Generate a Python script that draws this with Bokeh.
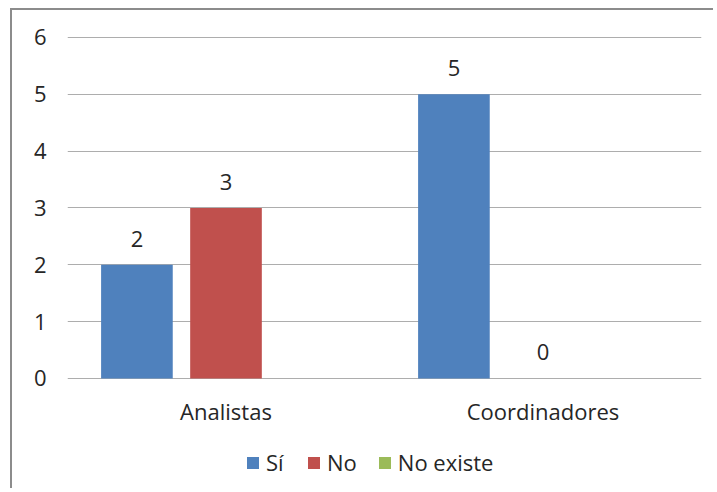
from bokeh.plotting import figure
from bokeh.models import (ColumnDataSource, FactorRange, Range1d, FixedTicker, LabelSet,
                          Legend, LegendItem)
from bokeh.transform import dodge
from bokeh.embed import file_html
from bokeh.resources import INLINE
from bokeh.core.properties import value
import math

categories = ["Analistas", "Coordinadores"]
series_names = ["Sí", "No", "No existe"]
si_values = [2, 5]
no_values = [3, 0]
no_existe_values = [float("nan"), float("nan")]
y_ticks = [0, 1, 2, 3, 4, 5, 6]

colors = ["#4F81BD", "#C0504D", "#9BBB59"]
offsets = [-0.281, 0.0, 0.281]
bar_w = 0.226
FONT = "Open Sans"
FS = "22px"
TXT = "#262626"
GRID = "#ADADAD"

# frame extends below the value axis so the legend can sit inside it
p = figure(x_range=FactorRange(*categories, range_padding=0),
           y_range=Range1d(-1.971, 6.299),
           width=703, height=480, output_backend="svg", toolbar_location=None,
           min_border_left=55, min_border_right=14, min_border_top=10, min_border_bottom=0)
p.styles = {"margin-left": "10px", "margin-top": "8px",
            "border-left": "2px solid #8C8C8C", "border-top": "2px solid #8C8C8C"}
p.outline_line_color = None
p.xaxis.visible = False
p.xgrid.grid_line_color = None
p.ygrid.ticker = FixedTicker(ticks=y_ticks)
p.ygrid.grid_line_color = GRID
p.ygrid.grid_line_width = 1
p.yaxis.ticker = FixedTicker(ticks=y_ticks)
p.yaxis.axis_line_color = None
p.yaxis.major_tick_line_color = None
p.yaxis.minor_tick_line_color = None
p.yaxis.major_tick_out = 0
p.yaxis.major_label_standoff = 21
p.yaxis.major_label_text_font = FONT
p.yaxis.major_label_text_font_size = FS
p.yaxis.major_label_text_color = TXT

# category labels under the zero line
cat_src = ColumnDataSource(dict(cat=categories))
p.add_layout(LabelSet(x="cat", y=0, text="cat", source=cat_src, text_align="center",
                      text_baseline="top", y_offset=-18, text_font=value(FONT),
                      text_font_size=FS, text_color=TXT))

all_vals = [si_values, no_values, no_existe_values]
items = []
for name, vals, col, off in zip(series_names, all_vals, colors, offsets):
    src = ColumnDataSource(dict(cat=categories, val=vals))
    r = p.vbar(x=dodge("cat", off, range=p.x_range), top="val", width=bar_w, bottom=0,
               source=src, fill_color=col, line_color=None)
    items.append(LegendItem(label=name, renderers=[r]))
    lab = [(c, v) for c, v in zip(categories, vals) if not (isinstance(v, float) and math.isnan(v))]
    if lab:
        lsrc = ColumnDataSource(dict(cat=[a for a, _ in lab], val=[b for _, b in lab],
                                     txt=[str(b) for _, b in lab]))
        p.add_layout(LabelSet(x=dodge("cat", off, range=p.x_range), y="val", text="txt",
                              source=lsrc, text_align="center", text_baseline="bottom",
                              y_offset=18, text_font=value(FONT), text_font_size=FS,
                              text_color=TXT))

legend = Legend(items=items, orientation="horizontal", location=(178, 13),
                border_line_color=None, background_fill_alpha=0,
                label_text_font=FONT, label_text_font_size=FS, label_text_color=TXT,
                glyph_width=15, glyph_height=15, label_standoff=6, spacing=20,
                padding=0, margin=0)
p.add_layout(legend, "center")

open("out.html", "w").write(file_html(p, INLINE))
